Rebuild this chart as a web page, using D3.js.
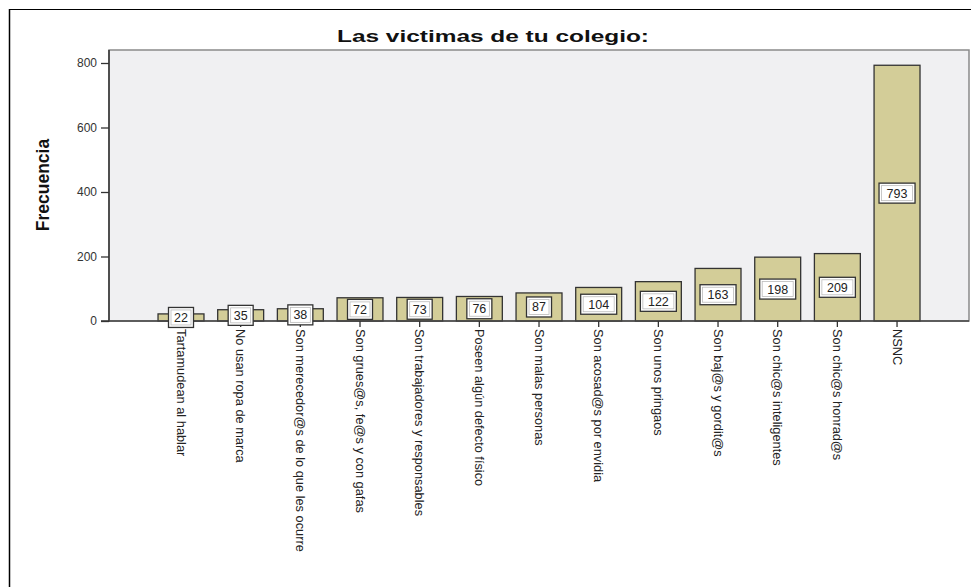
<!DOCTYPE html>
<html>
<head>
<meta charset="utf-8">
<script src="https://cdn.jsdelivr.net/npm/d3@7"></script>
<style>
  html, body { margin: 0; padding: 0; background: #fff; }
  svg { display: block; }
</style>
</head>
<body>
<svg id="chart" width="971" height="587"></svg>
<script>
// Frequencies of answers to "Las victimas de tu colegio:"
const categories = [
  "Tartamudean al hablar",
  "No usan ropa de marca",
  "Son merecedor@s de lo que les ocurre",
  "Son grues@s, fe@s y con gafas",
  "Son trabajadores y responsables",
  "Poseen algún defecto físico",
  "Son malas personas",
  "Son acosad@s por envidia",
  "Son unos pringaos",
  "Son baj@s y gordit@s",
  "Son chic@s inteligentes",
  "Son chic@s honrad@s",
  "NSNC"
];
const frequencies = [22, 35, 38, 72, 73, 76, 87, 104, 122, 163, 198, 209, 793];
const yTicks = [0, 200, 400, 600, 800];
const chartTitle = "Las victimas de tu colegio:";
const yTitle = "Frecuencia";

const svg = d3.select("#chart");

// frame lines of the output window
svg.append("line").attr("x1", 9).attr("x2", 971).attr("y1", 9.5).attr("y2", 9.5)
  .attr("stroke", "#000").attr("stroke-width", 1.2);
svg.append("line").attr("x1", 9.5).attr("x2", 9.5).attr("y1", 9).attr("y2", 587)
  .attr("stroke", "#000").attr("stroke-width", 1.5);

const plot = { left: 109, top: 50, right: 969, bottom: 321 };

const y = d3.scaleLinear().domain([0, 800]).range([plot.bottom, 63]);
const step = 59.67;
const x = d3.scaleBand()
  .domain(categories)
  .range([181 - step / 2, 181 - step / 2 + step * categories.length])
  .paddingInner(0.23)
  .paddingOuter(0.115);

// plot background
svg.append("rect")
  .attr("x", plot.left).attr("y", plot.top)
  .attr("width", plot.right - plot.left).attr("height", plot.bottom - plot.top)
  .attr("fill", "#f0f0f2").attr("stroke", "#8a8a8a").attr("stroke-width", 1.5);

// bars
svg.append("g").selectAll("rect")
  .data(frequencies)
  .join("rect")
  .attr("x", (d, i) => x(categories[i]))
  .attr("width", x.bandwidth())
  .attr("y", d => y(d))
  .attr("height", d => y(0) - y(d))
  .attr("fill", "#d3cd98")
  .attr("stroke", "#333")
  .attr("stroke-width", 1.3);

// y axis
const yAxis = d3.axisLeft(y).tickValues(yTicks).tickSize(8).tickPadding(4);
const gy = svg.append("g").attr("transform", `translate(${plot.left},0)`).call(yAxis);
gy.select(".domain").attr("stroke", "#333").attr("stroke-width", 1.5)
  .attr("d", `M-8,${plot.bottom}H0V${plot.top}`);
gy.selectAll(".tick line").attr("stroke", "#333").attr("stroke-width", 1.3);
gy.selectAll(".tick text")
  .attr("font-family", "Liberation Sans, Arial, sans-serif")
  .attr("font-size", 12).attr("fill", "#333");

// x axis line, ticks and rotated labels
const xAxis = d3.axisBottom(x).tickSize(6).tickPadding(0);
const gx = svg.append("g").attr("transform", `translate(0,${plot.bottom})`).call(xAxis);
gx.select(".domain").attr("stroke", "#444").attr("stroke-width", 1.5)
  .attr("d", `M${plot.left},0H${plot.right}`);
gx.selectAll(".tick line").attr("stroke", "#333").attr("stroke-width", 1.3);
gx.selectAll(".tick text")
  .attr("font-family", "Liberation Sans Narrow, Liberation Sans, Arial, sans-serif")
  .attr("font-size", 12.8).attr("fill", "#222")
  .attr("transform", "rotate(90)")
  .attr("text-anchor", "start")
  .attr("dy", "0.35em")
  .attr("x", 8).attr("y", 0);

// value labels
const lab = svg.append("g").selectAll("g")
  .data(frequencies)
  .join("g")
  .attr("transform", (d, i) => `translate(${x(categories[i]) + x.bandwidth() / 2},${y(d / 2)})`);
lab.append("rect")
  .attr("x", d => String(d).length > 2 ? -18 : -12.5)
  .attr("width", d => String(d).length > 2 ? 36 : 25)
  .attr("y", -10).attr("height", 20)
  .attr("fill", "#fff").attr("stroke", "#333").attr("stroke-width", 1.3);
lab.append("rect")
  .attr("x", d => String(d).length > 2 ? -15.5 : -10)
  .attr("width", d => String(d).length > 2 ? 31 : 20)
  .attr("y", -7.5).attr("height", 15)
  .attr("fill", "none").attr("stroke", "#bbb").attr("stroke-width", 0.8);
lab.append("text")
  .attr("text-anchor", "middle").attr("dy", "0.36em")
  .attr("font-family", "Liberation Sans, Arial, sans-serif")
  .attr("font-size", 12.5).attr("fill", "#222")
  .text(d => d);

// titles
svg.append("text")
  .attr("x", 493).attr("y", 42)
  .attr("text-anchor", "middle")
  .attr("font-family", "Liberation Sans, Arial, sans-serif")
  .attr("font-weight", "bold").attr("font-size", 16)
  .attr("textLength", 312).attr("lengthAdjust", "spacingAndGlyphs")
  .attr("fill", "#111")
  .text(chartTitle);

svg.append("text")
  .attr("transform", "translate(49,185) rotate(-90)")
  .attr("text-anchor", "middle")
  .attr("font-family", "Liberation Sans Narrow, Liberation Sans, Arial, sans-serif")
  .attr("font-weight", "bold").attr("font-size", 17.5)
  .attr("fill", "#111")
  .text(yTitle);
</script>
</body>
</html>
